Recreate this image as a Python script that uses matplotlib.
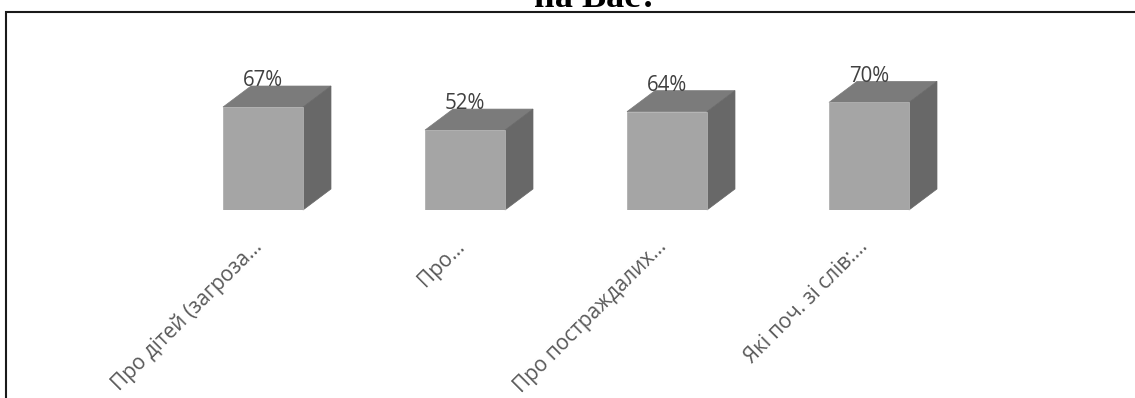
import matplotlib
matplotlib.use("Agg")
import matplotlib.pyplot as plt
from matplotlib.patches import Polygon, Rectangle

categories = ["Про дітей (загроза…", "Про…", "Про постраждалих…", "Які поч. зі слів:…"]
values = [67, 52, 64, 70]
title_text = "на Вас?"

FRONT = "#a5a5a5"
TOP = "#7b7b7b"
SIDE = "#686868"

W, H = 1135, 398
fig = plt.figure(figsize=(W / 100, H / 100), dpi=100)

# bordering frame (cropped chart area)
fig.patches.append(Rectangle((6 / W, -0.05), 1.2, (H - 12) / H + 0.05,
                             transform=fig.transFigure, fill=False,
                             edgecolor="#1a1a1a", linewidth=1.5))

fig.text(596 / W, 1 - 7 / H, title_text, ha="center", va="baseline",
         fontsize=26, fontweight="bold", family="Liberation Serif", color="black")

ax = fig.add_axes([162 / W, (H - 210) / H, 808 / W, 153.7 / H])
ax.set_xlim(-0.5, 3.5)
ax.set_ylim(0, 100)
for s in ax.spines.values():
    s.set_visible(False)
ax.set_yticks([])

bw = 0.396
hw = bw / 2
dx = 0.1386
dy = 13.66
xs = list(range(len(values)))

ax.bar(xs, values, width=bw, color=FRONT, edgecolor="#b0b0b0", linewidth=0.6, zorder=3)
for x, v in zip(xs, values):
    top = Polygon([(x - hw, v), (x + hw, v), (x + hw + dx, v + dy), (x - hw + dx, v + dy)],
                  closed=True, facecolor=TOP, edgecolor=TOP, linewidth=0.5, zorder=2, clip_on=False)
    side = Polygon([(x + hw, 0), (x + hw + dx, dy), (x + hw + dx, v + dy), (x + hw, v)],
                   closed=True, facecolor=SIDE, edgecolor=SIDE, linewidth=0.5, zorder=2, clip_on=False)
    ax.add_patch(top)
    ax.add_patch(side)
    ax.text(x, v + 17.0, f"{v}%", ha="center", va="center", fontsize=14.8,
            family="Open Sans", color="#404040", zorder=5, clip_on=False)

ax.set_xticks(xs)
ax.set_xticklabels(categories, rotation=45, ha="right", va="baseline",
                   rotation_mode="anchor", fontsize=15, family="Open Sans", color="#595959")
ax.tick_params(axis="x", length=0, pad=27)

fig.savefig("out.png", dpi=100, facecolor="white")
